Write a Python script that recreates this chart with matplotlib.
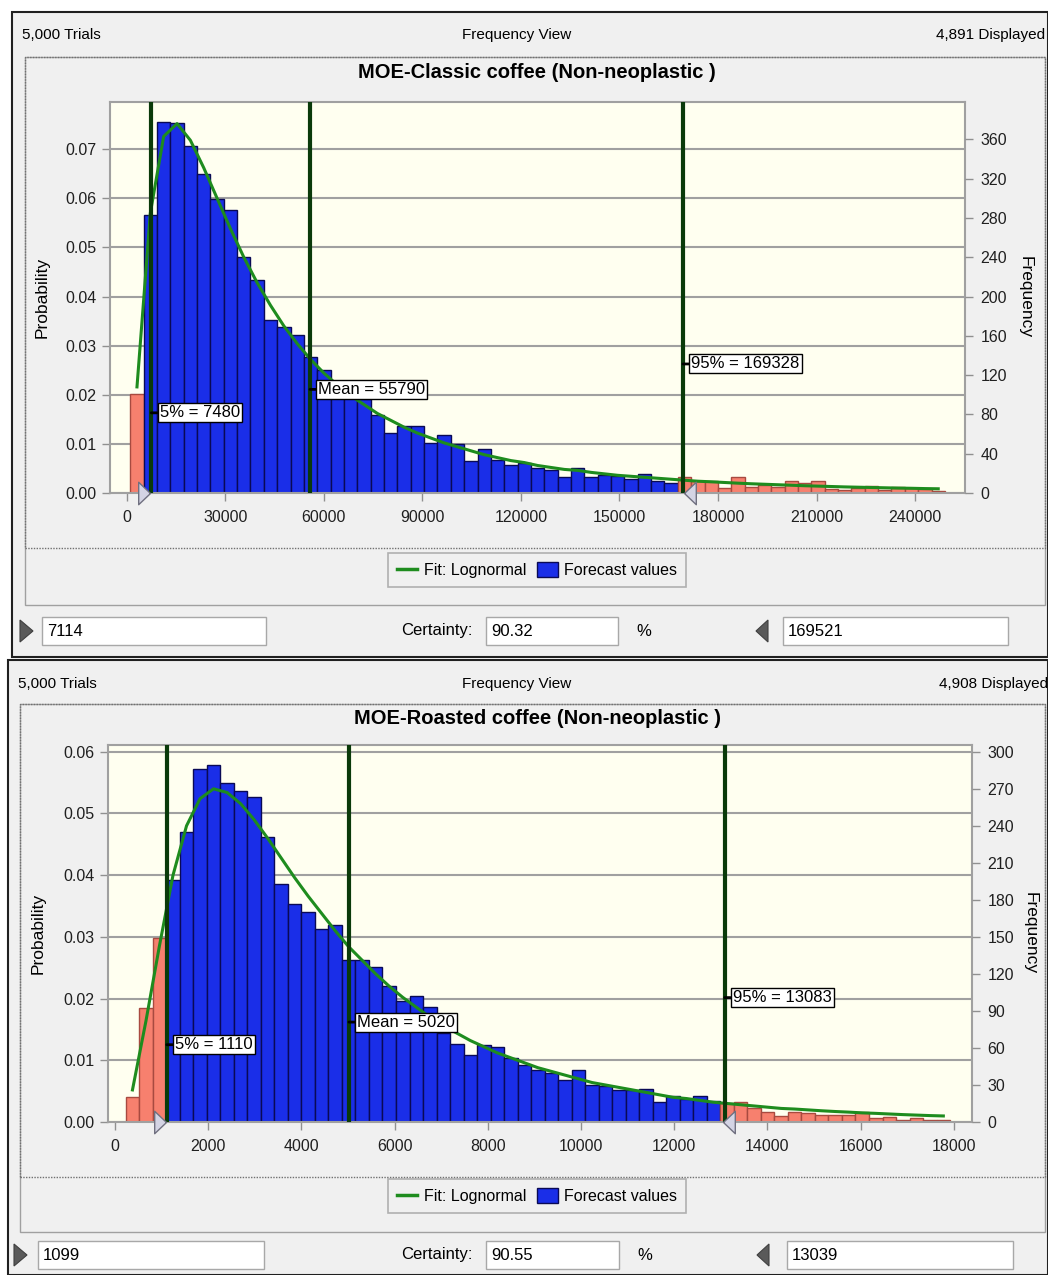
import matplotlib
matplotlib.use('Agg')
import matplotlib.pyplot as plt
import matplotlib.transforms as mtransforms
from matplotlib.patches import Rectangle, Patch, Polygon
from matplotlib.lines import Line2D
import numpy as np

plt.rcParams['font.family'] = ['Liberation Sans', 'DejaVu Sans']

trials = 5000

classic_title = "MOE-Classic coffee (Non-neoplastic )"
classic_displayed = 4891
classic_bin_start = 1100
classic_bin_width = 4065
classic_freq = [101, 283, 378, 377, 353, 325, 299, 288, 240, 217,
                176, 169, 161, 138, 125, 110, 100, 96, 79, 61,
                68, 68, 51, 59, 50, 33, 45, 34, 28, 31,
                25, 23, 16, 25, 16, 18, 17, 14, 19, 12,
                10, 16, 12, 12, 5, 16, 6, 8, 6, 12,
                10, 12, 4, 3, 5, 7, 3, 6, 5, 4, 2]
classic_fit = [108, 285, 363, 376, 359, 331, 300, 269, 240, 214,
               191, 170, 152, 136, 122, 110, 99, 90, 81, 74,
               67, 61, 56, 51, 47, 43, 39, 36, 33, 31,
               28, 26, 24, 23, 21, 19.5, 18, 17, 16, 15,
               14, 13, 12, 11.4, 10.7, 10, 9.4, 8.9, 8.4, 7.9,
               7.4, 7, 6.6, 6.2, 5.9, 5.6, 5.3, 5, 4.8, 4.5, 4.3]
classic_stats = [7480, 55790, 169328]
classic_stat_names = ["5% = 7480", "Mean = 55790", "95% = 169328"]
classic_lo, classic_hi = 7114, 169521
classic_certainty = "90.32"
classic_xticks = [0, 30000, 60000, 90000, 120000, 150000, 180000, 210000, 240000]
classic_pticks = [0.00, 0.01, 0.02, 0.03, 0.04, 0.05, 0.06, 0.07]
classic_fticks = [0, 40, 80, 120, 160, 200, 240, 280, 320, 360]

roasted_title = "MOE-Roasted coffee (Non-neoplastic )"
roasted_displayed = 4908
roasted_bin_start = 230
roasted_bin_width = 290
roasted_freq = [20, 92, 149, 196, 235, 286, 289, 275, 268, 263,
                231, 193, 177, 170, 156, 160, 131, 131, 126, 110,
                98, 102, 93, 72, 63, 54, 62, 61, 52, 46,
                42, 40, 34, 42, 30, 29, 26, 26, 27, 16,
                21, 19, 21, 17, 15, 16, 11, 8, 5, 8,
                7, 6, 6, 6, 8, 3, 4, 2, 3, 2, 2]
roasted_fit = [26, 82, 143, 200, 240, 262, 270, 267, 258, 245,
               230, 214, 198, 183, 169, 155, 142, 131, 120, 110,
               101, 93, 85, 78, 72, 66, 61, 56, 52, 48,
               44, 41, 38, 35, 32, 30, 28, 26, 24, 22,
               20, 19, 17.5, 16, 15, 14, 13, 12, 11, 10.5,
               9.8, 9.1, 8.5, 8, 7.4, 7, 6.5, 6, 5.6, 5.2, 4.9]
roasted_stats = [1110, 5020, 13083]
roasted_stat_names = ["5% = 1110", "Mean = 5020", "95% = 13083"]
roasted_lo, roasted_hi = 1099, 13039
roasted_certainty = "90.55"
roasted_xticks = [0, 2000, 4000, 6000, 8000, 10000, 12000, 14000, 16000, 18000]
roasted_pticks = [0.00, 0.01, 0.02, 0.03, 0.04, 0.05, 0.06]
roasted_fticks = [0, 30, 60, 90, 120, 150, 180, 210, 240, 270, 300]

# ---- styles ----
BLUE = '#1a2ee8'
BLUE_EDGE = '#0a0a55'
RED = '#f7806e'
RED_EDGE = '#a84a40'
GREEN = '#1e8c1e'
DARK = '#0a3a0a'
PANEL = '#f0f0f0'
GRID = '#a0a0a0'

W, H = 1048, 1275
fig = plt.figure(figsize=(W / 100, H / 100), dpi=100)
fig.patch.set_facecolor('white')


def fx(x):
    return x / W


def fy(y):
    return 1 - y / H


def add_rect(x0, y0, x1, y1, **kw):
    fig.add_artist(Rectangle((fx(x0), fy(y1)), (x1 - x0) / W, (y1 - y0) / H,
                             transform=fig.transFigure, **kw))


def add_tri(pts, **kw):
    fig.add_artist(Polygon([(fx(a), fy(b)) for a, b in pts], closed=True,
                           transform=fig.transFigure, **kw))


def draw_panel(L, title, displayed, bin_start, bin_width, freq, fit, stats,
               stat_names, lo, hi, certainty, xticks, xlim, pticks, ptop, fticks):
    # window chrome
    add_rect(*L['outer'], fc=PANEL, ec='#202020', lw=1.5, zorder=0)
    add_rect(*L['frame'], fc='none', ec='#a0a0a0', lw=1, zorder=1)
    add_rect(*L['dotted'], fc='none', ec='#707070', lw=1, ls=(0, (1, 1)), zorder=1)
    hy = L['hy']
    fig.text(fx(L['hx0']), fy(hy), f"{trials:,} Trials", ha='left', va='center', fontsize=11)
    fig.text(fx(517), fy(hy), "Frequency View", ha='center', va='center', fontsize=11)
    fig.text(fx(L['hx1']), fy(hy), f"{displayed:,} Displayed", ha='right', va='center', fontsize=11)
    fig.text(fx(537), fy(L['ty']), title, ha='center', va='center',
             fontsize=14.5, fontweight='bold')

    x0, y0, x1, y1 = L['plot']
    ax = fig.add_axes([fx(x0), fy(y1), (x1 - x0) / W, (y1 - y0) / H])
    ax.set_facecolor('#fffff0')

    edges = bin_start + bin_width * np.arange(len(freq) + 1)
    centers = edges[:-1] + bin_width / 2
    inside = (centers >= lo) & (centers <= hi)
    ax.bar(edges[:-1], np.array(freq) / trials, width=bin_width, align='edge',
           color=np.where(inside, BLUE, RED), edgecolor=np.where(inside, BLUE_EDGE, RED_EDGE),
           linewidth=1, zorder=2)
    ax.plot(centers, np.array(fit) / trials, color=GREEN, lw=2.2, zorder=3)

    trans = mtransforms.blended_transform_factory(ax.transData, ax.transAxes)
    for v, name, frac in zip(stats, stat_names, [0.205, 0.265, 0.33]):
        ax.axvline(v, color=DARK, lw=3, zorder=4)
        ax.annotate(name, xy=(v, frac), xycoords=trans, xytext=(6, 0),
                    textcoords='offset points', ha='left', va='center', fontsize=12,
                    bbox=dict(boxstyle='square,pad=0.12', fc='white', ec='black', lw=1),
                    arrowprops=dict(arrowstyle='-', color='black', lw=2,
                                    shrinkA=0, shrinkB=0), zorder=5)

    # certainty grabbers (tip sits on the bound)
    right = [(0, 0), (-1, 0.95), (-1, -0.95), (0, 0)]
    left = [(0, 0), (1, 0.95), (1, -0.95), (0, 0)]
    ax.plot([lo], [0], marker=right, ms=17, mfc='#d4d4e4', mec='#707080', mew=1,
            clip_on=False, zorder=6)
    ax.plot([hi], [0], marker=left, ms=17, mfc='#d4d4e4', mec='#707080', mew=1,
            clip_on=False, zorder=6)

    ax.set_xlim(*xlim)
    ax.set_ylim(0, ptop)
    ax.set_xticks(xticks)
    ax.set_yticks(pticks)
    ax.set_yticklabels([f"{t:.2f}" for t in pticks])
    ax.grid(axis='y', color=GRID, lw=1.5)
    ax.set_axisbelow(True)
    ax.tick_params(axis='both', direction='out', length=6, width=1, color='#909090',
                   labelsize=11.5, labelcolor='#202020')
    ax.tick_params(axis='x', pad=6)
    for s in ax.spines.values():
        s.set_color('#a0a0a0')
        s.set_linewidth(1.5)

    ax2 = ax.twinx()
    ax2.set_ylim(0, ptop * trials)
    ax2.set_yticks(fticks)
    ax2.tick_params(axis='y', direction='out', length=6, width=1, color='#909090',
                    labelsize=11.5, labelcolor='#202020', pad=5)
    for s in ax2.spines.values():
        s.set_visible(False)

    cy = (y0 + y1) / 2
    fig.text(fx(L['plx']), fy(cy), "Probability", rotation=90, ha='center', va='center', fontsize=12.5)
    fig.text(fx(L['frx']), fy(cy), "Frequency", rotation=-90, ha='center', va='center', fontsize=12.5)

    handles = [Line2D([0], [0], color=GREEN, lw=2.5),
               Patch(fc=BLUE, ec=BLUE_EDGE)]
    leg = fig.legend(handles, ["Fit: Lognormal", "Forecast values"], loc='center',
                     bbox_to_anchor=(fx(537), fy(L['ly'])), ncol=2, frameon=True,
                     fancybox=False, edgecolor='#a0a0a0', facecolor=PANEL, fontsize=11.5,
                     handlelength=1.3, handleheight=1.1, handletextpad=0.4,
                     columnspacing=0.7, borderpad=0.55)
    leg.get_frame().set_linewidth(1.2)

    # certainty controls
    cy = L['cy']
    tx = L['tri1']
    add_tri([(tx, cy - 11), (tx + 13, cy), (tx, cy + 11)], fc='#5a5a5a', ec='#404040', lw=0.8)
    tx = L['tri2']
    add_tri([(tx + 12, cy - 11), (tx, cy), (tx + 12, cy + 11)], fc='#5a5a5a', ec='#404040', lw=0.8)
    for (bx0, bx1), txt in zip(L['boxes'], [f"{lo}", certainty, f"{hi}"]):
        add_rect(bx0, cy - 14, bx1, cy + 14, fc='white', ec='#a8a8a8', lw=1)
        fig.text(fx(bx0 + 5), fy(cy), txt, ha='left', va='center', fontsize=12)
    fig.text(fx(473), fy(cy), "Certainty:", ha='right', va='center', fontsize=12)
    fig.text(fx(L['pct']), fy(cy), "%", ha='left', va='center', fontsize=12)


top_layout = dict(outer=(12, 12, 1048, 657), frame=(25, 57, 1045, 605),
                  dotted=(25, 57, 1045, 548), hy=35, hx0=22, hx1=1045, ty=72,
                  plot=(110, 102, 965, 493), plx=42, frx=1025, ly=570,
                  cy=631, tri1=20, tri2=756, boxes=[(42, 266), (486, 618), (783, 1008)], pct=636)
bottom_layout = dict(outer=(8, 660, 1048, 1275), frame=(20, 704, 1045, 1232),
                     dotted=(20, 704, 1045, 1177), hy=684, hx0=18, hx1=1048, ty=718,
                     plot=(108, 745, 972, 1122), plx=38, frx=1030, ly=1196,
                     cy=1255, tri1=14, tri2=757, boxes=[(38, 264), (486, 619), (787, 1013)], pct=637)

draw_panel(top_layout, classic_title, classic_displayed, classic_bin_start, classic_bin_width,
           classic_freq, classic_fit, classic_stats, classic_stat_names, classic_lo, classic_hi,
           classic_certainty, classic_xticks, (-5080, 255180), classic_pticks, 0.0796, classic_fticks)
draw_panel(bottom_layout, roasted_title, roasted_displayed, roasted_bin_start, roasted_bin_width,
           roasted_freq, roasted_fit, roasted_stats, roasted_stat_names, roasted_lo, roasted_hi,
           roasted_certainty, roasted_xticks, (-150, 18390), roasted_pticks, 0.0611, roasted_fticks)

fig.savefig('out.png', dpi=100, facecolor=fig.get_facecolor())
